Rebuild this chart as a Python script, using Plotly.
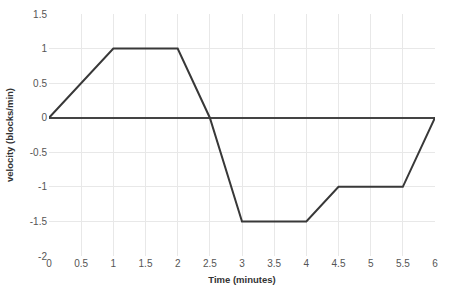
import plotly.graph_objects as go

time_min = [0, 1, 2, 2.5, 3, 4, 4.5, 5.5, 6]
velocity = [0, 1, 1, 0, -1.5, -1.5, -1, -1, 0]
x_ticks = [0, 0.5, 1, 1.5, 2, 2.5, 3, 3.5, 4, 4.5, 5, 5.5, 6]
y_ticks = [-2, -1.5, -1, -0.5, 0, 0.5, 1, 1.5]

fig = go.Figure()
fig.add_trace(go.Scatter(x=time_min, y=velocity, mode="lines",
                         line=dict(color="#383838", width=2), hoverinfo="skip"))

fig.update_layout(
    width=450, height=297,
    margin=dict(l=49, r=15, t=14, b=41),
    plot_bgcolor="white", paper_bgcolor="white",
    showlegend=False,
    font=dict(family="Liberation Sans, Arial, sans-serif", size=10, color="#555555"),
)
fig.update_xaxes(range=[0, 6], tickvals=x_ticks, ticktext=[f"{v:g}" for v in x_ticks],
                 showgrid=True, gridcolor="#e8e8e8", gridwidth=1, automargin=False,
                 zeroline=False, showline=False, ticks="", ticklen=0,
                 title=dict(text="<b>Time (minutes)</b>", font=dict(size=9.5, color="#333333"), standoff=8))
fig.update_yaxes(range=[-2, 1.5], tickvals=y_ticks, ticktext=[f"{v:g}" for v in y_ticks],
                 showgrid=True, gridcolor="#e8e8e8", gridwidth=1, automargin=False,
                 zeroline=True, zerolinecolor="#444444", zerolinewidth=1.5,
                 showline=False, ticks="", ticklen=0, ticklabelstandoff=1,
                 title=dict(text="<b>velocity (blocks/min)</b>", font=dict(size=9.5, color="#333333"), standoff=14))

fig.write_html("out.html")
